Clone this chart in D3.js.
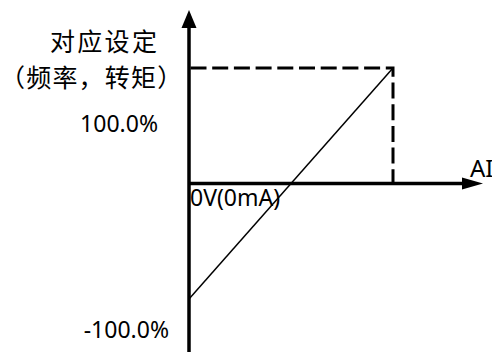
<!DOCTYPE html>
<html>
<head>
<meta charset="utf-8">
<script src="https://cdn.jsdelivr.net/npm/d3@7"></script>
<style>
  body { margin: 0; background: #fff; }
  svg { display: block; }
</style>
</head>
<body>
<svg id="chart" width="492" height="352"></svg>
<script>
// input signal (AI) in V, and the corresponding setting in %
var aiValues = [0, 10];
var settingValues = [-100, 100];
var yTickLabels = ["100.0%", "-100.0%"];
var yTitle = ["对应设定", "（频率，转矩）"];
var xTitle = "AI";
var originLabel = "0V(0mA)";

var svg = d3.select("#chart"),
    WIDTH = 492,
    HEIGHT = 352;

var xScale = d3.scaleLinear()
    .domain([0, 10])
    .range([189, 393]);

var yScale = d3.scaleLinear()
    .domain([-100, 100])
    .range([299, 68]);

var x0 = xScale(0), y0 = yScale(0);
var xEnd = 483, yTop = 10;

// axes
svg.append("line")
    .attr("x1", x0).attr("y1", HEIGHT)
    .attr("x2", x0).attr("y2", yTop + 14)
    .attr("stroke", "#000").attr("stroke-width", 3.5);
svg.append("path")
    .attr("d", "M" + x0 + "," + yTop + "L" + (x0 - 7.5) + "," + (yTop + 18) + "L" + (x0 + 7.5) + "," + (yTop + 18) + "Z")
    .attr("fill", "#000");

svg.append("line")
    .attr("x1", x0).attr("y1", y0)
    .attr("x2", xEnd - 16).attr("y2", y0)
    .attr("stroke", "#000").attr("stroke-width", 3.5);
svg.append("path")
    .attr("d", "M" + xEnd + "," + y0 + "L" + (xEnd - 21) + "," + (y0 - 6) + "L" + (xEnd - 21) + "," + (y0 + 6) + "Z")
    .attr("fill", "#000");

// dashed guides to the 100% point
var corner = { x: xScale(aiValues[1]), y: yScale(settingValues[1]) };
svg.append("path")
    .attr("d", "M" + (x0 + 1.5) + "," + corner.y + "H" + corner.x + "V" + (y0 - 1.5))
    .attr("fill", "none")
    .attr("stroke", "#000")
    .attr("stroke-width", 3)
    .attr("stroke-dasharray", "16,5.7");

// characteristic line
var lineGen = d3.line()
    .x(function (d, i) { return xScale(aiValues[i]); })
    .y(function (d) { return yScale(d); });

svg.append("path")
    .attr("d", lineGen(settingValues))
    .attr("fill", "none")
    .attr("stroke", "#000")
    .attr("stroke-width", 1.5);

// texts
var cjk = "'Noto Sans CJK SC', sans-serif";
var latin = "'Noto Sans', sans-serif";

svg.append("text")
    .attr("x", 50).attr("y", 51)
    .style("font-family", cjk).style("font-size", "25px")
    .style("letter-spacing", "2.3px")
    .text(yTitle[0]);
svg.append("text")
    .attr("x", 0).attr("y", 87)
    .style("font-family", cjk).style("font-size", "25px")
    .style("letter-spacing", "1.2px")
    .text(yTitle[1]);

svg.append("text")
    .attr("x", 158).attr("y", yScale(100) + 64)
    .style("text-anchor", "end")
    .style("font-family", latin).style("font-size", "23px")
    .text(yTickLabels[0]);
svg.append("text")
    .attr("x", 169).attr("y", yScale(-100) + 39)
    .style("text-anchor", "end")
    .style("font-family", latin).style("font-size", "23px")
    .text(yTickLabels[1]);

svg.append("text")
    .attr("x", x0 + 1).attr("y", y0 + 22)
    .style("font-family", latin).style("font-size", "23px")
    .text(originLabel);

svg.append("text")
    .attr("x", 470).attr("y", y0 - 7)
    .style("font-family", latin).style("font-size", "24px")
    .text(xTitle);
</script>
</body>
</html>
